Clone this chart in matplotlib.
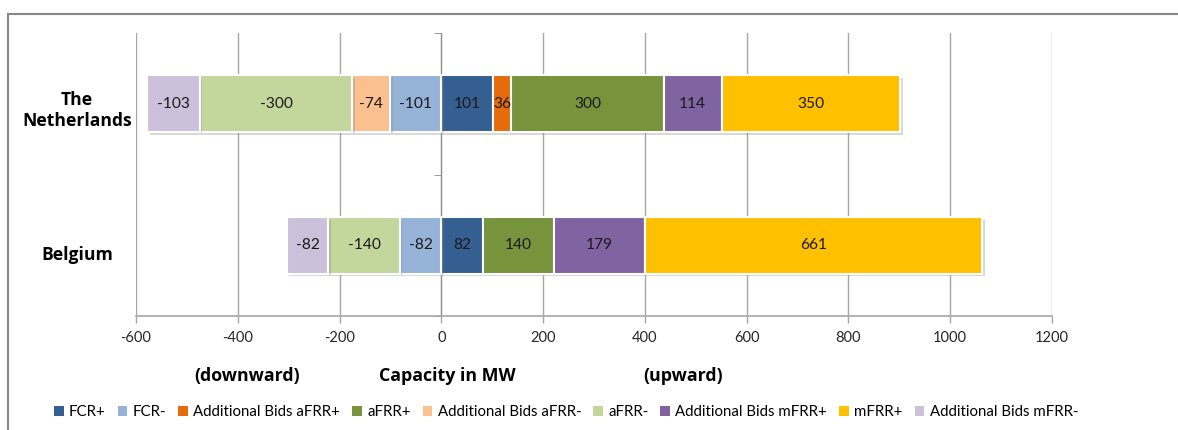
import matplotlib
matplotlib.use("Agg")
import matplotlib.pyplot as plt
import matplotlib.patheffects as pe
import matplotlib.transforms as mtransforms
from matplotlib.lines import Line2D
import numpy as np

# Balancing capacity per country (MW)
countries = ["The\nNetherlands", "Belgium"]
series_names = [
    "FCR+", "FCR-", "Additional Bids aFRR+", "aFRR+", "Additional Bids aFRR-",
    "aFRR-", "Additional Bids mFRR+", "mFRR+", "Additional Bids mFRR-",
]
fcr_plus = [101, 82]
fcr_minus = [-101, -82]
add_afrr_plus = [36, 0]
afrr_plus = [300, 140]
add_afrr_minus = [-74, 0]
afrr_minus = [-300, -140]
add_mfrr_plus = [114, 179]
mfrr_plus = [350, 661]
add_mfrr_minus = [-103, -82]
x_ticks = [-600, -400, -200, 0, 200, 400, 600, 800, 1000, 1200]

series_values = [fcr_plus, fcr_minus, add_afrr_plus, afrr_plus, add_afrr_minus,
                 afrr_minus, add_mfrr_plus, mfrr_plus, add_mfrr_minus]
colors = ["#355E91", "#95B3D7", "#E46C0A", "#77933C", "#FAC090",
          "#C3D69B", "#8064A2", "#FFC000", "#CCC1DA"]

plt.rcParams["font.family"] = ["Lato", "DejaVu Sans"]

W, H = 1178, 430
fig = plt.figure(figsize=(W / 100, H / 100), dpi=100)
ax = fig.add_axes([136 / W, 1 - 316 / H, 916 / W, 283 / H])

ypos = np.array([1.0, 0.0])
pos_left = np.zeros(len(countries))
neg_left = np.zeros(len(countries))
shadow = [pe.SimplePatchShadow(offset=(2, -2), shadow_rgbFace="#7f7f7f", alpha=0.3),
          pe.Normal()]

for name, vals, col in zip(series_names, series_values, colors):
    vals = np.array(vals, dtype=float)
    left = np.where(vals >= 0, pos_left, neg_left)
    bars = ax.barh(ypos, vals, left=left, height=0.4, color=col,
                   edgecolor="white", linewidth=1.5, label=name, zorder=3)
    for b, v, l, y in zip(bars, vals, left, ypos):
        if v == 0:
            b.set_visible(False)
            continue
        b.set_path_effects(shadow)
        ax.text(l + v / 2, y, f"{int(v)}", ha="center", va="center",
                fontsize=11.2, color="#1a1a1a", zorder=5)
    pos_left = np.where(vals >= 0, pos_left + vals, pos_left)
    neg_left = np.where(vals < 0, neg_left + vals, neg_left)

ax.set_xlim(-600, 1200)
ax.set_ylim(-0.5, 1.5)
ax.set_xticks(x_ticks)
ax.set_xticklabels([str(t) for t in x_ticks], fontsize=10.5, color="#262626")
ax.tick_params(axis="x", length=5, color="#a6a6a6", width=1, pad=6)
ax.grid(axis="x", color="#a6a6a6", linewidth=1, zorder=0)
ax.set_axisbelow(True)

for s in ["top", "right"]:
    ax.spines[s].set_visible(False)
ax.spines["bottom"].set_color("#a6a6a6")
ax.spines["bottom"].set_linewidth(1.2)
ax.spines["left"].set_position(("data", 0))
ax.spines["left"].set_color("#8c8c8c")
ax.spines["left"].set_zorder(1)
ax.set_yticks([])
ax.set_yticks([-0.5, 0.5, 1.5], minor=True)
ax.tick_params(axis="y", which="minor", length=5, color="#8c8c8c", direction="out")

# Category names sit a little below the bar centres
label_shift = [7, 10]
for c, y, d in zip(countries, ypos, label_shift):
    tr = ax.get_yaxis_transform() + mtransforms.ScaledTranslation(0, -d / 100, fig.dpi_scale_trans)
    ax.text(-0.0644, y, c, transform=tr, ha="center", va="center",
            fontsize=12.6, fontweight="bold", family="Open Sans", linespacing=1.25)

for txt, px in [("(downward)", 247), ("Capacity in MW", 447), ("(upward)", 683)]:
    fig.text(px / W, 1 - 376 / H, txt, ha="center", va="center",
             fontsize=12.8, fontweight="bold", family="Open Sans")

handles, labels = ax.get_legend_handles_labels()
leg = fig.legend(handles, labels, loc="center", bbox_to_anchor=(566 / W, 1 - 412 / H),
                 ncol=9, frameon=False, fontsize=10.8, handlelength=0.65,
                 handleheight=0.65, handletextpad=0.35, columnspacing=0.8,
                 borderaxespad=0)
for h in leg.legend_handles:
    h.set_path_effects([])
    h.set_linewidth(0)

# Chart area frame
fig.add_artist(Line2D([7.5 / W, 1.0], [1 - 13.5 / H, 1 - 13.5 / H],
                      transform=fig.transFigure, color="#888888", linewidth=1.5))
fig.add_artist(Line2D([7.5 / W, 7.5 / W], [0, 1 - 13.5 / H],
                      transform=fig.transFigure, color="#888888", linewidth=1.5))

fig.savefig("out.png", dpi=100)
